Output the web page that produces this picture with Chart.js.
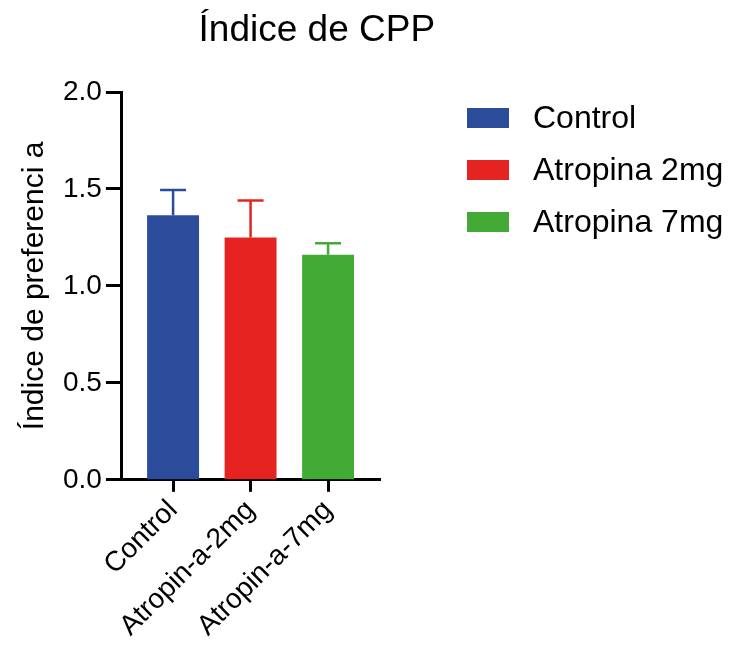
<!DOCTYPE html>
<html>
<head>
<meta charset="utf-8">
<script src="https://cdn.jsdelivr.net/npm/chart.js@4.4.1/dist/chart.umd.min.js"></script>
<style>
  html, body { margin: 0; padding: 0; background: #fff; }
  #wrap { width: 730px; height: 661px; }
</style>
</head>
<body>
<div id="wrap"><canvas id="chart"></canvas></div>
<script>
const chartTitle = 'Índice de CPP'
const yTitle = 'Índice de preferenci a'
const categories = ['Control', 'Atropin-a-2mg', 'Atropin-a-7mg']
const seriesNames = ['Control', 'Atropina 2mg', 'Atropina 7mg']
const means = [1.365, 1.25, 1.16]
const sem = [0.13, 0.19, 0.06]
const colors = ['#2B4C9B', '#E52421', '#43AA35']
const yTicks = [0, 0.5, 1.0, 1.5, 2.0]

const fontFamily = '"Liberation Sans", Arial, Helvetica, sans-serif'

// error bars drawn from the bar scales
const errorBars = {
    id: 'errorBars',
    afterDatasetsDraw(chart) {
        const { ctx } = chart
        const yScale = chart.scales.y
        chart.data.datasets.forEach((ds, i) => {
            const bar = chart.getDatasetMeta(i).data[0]
            if (!bar) return
            const top = yScale.getPixelForValue(means[i] + sem[i])
            ctx.save()
            ctx.strokeStyle = colors[i]
            ctx.lineWidth = 2.5
            ctx.beginPath()
            ctx.moveTo(bar.x, bar.y)
            ctx.lineTo(bar.x, top)
            ctx.moveTo(bar.x - 13, top)
            ctx.lineTo(bar.x + 13, top)
            ctx.stroke()
            ctx.restore()
        })
    },
}

// title sits over the plot + labels block, not the whole canvas
const plotTitle = {
    id: 'plotTitle',
    afterDraw(chart) {
        const { ctx } = chart
        ctx.save()
        ctx.font = `37px ${fontFamily}`
        ctx.fillStyle = '#000'
        ctx.textAlign = 'center'
        ctx.textBaseline = 'alphabetic'
        ctx.fillText(chartTitle, chart.width * 0.434, 41)
        ctx.restore()
    },
}

// legend to the right of the plot (built-in one is capped at half the width)
const sideLegend = {
    id: 'sideLegend',
    afterDraw(chart) {
        const { ctx, chartArea } = chart
        const x0 = chartArea.right + 87
        ctx.save()
        ctx.font = `32px ${fontFamily}`
        ctx.textBaseline = 'middle'
        ctx.textAlign = 'left'
        chart.data.datasets.forEach((ds, i) => {
            const yc = chartArea.top + 26 + i * 52
            ctx.fillStyle = ds.backgroundColor
            ctx.fillRect(x0, yc - 10, 42, 20)
            ctx.fillStyle = '#000'
            ctx.fillText(ds.label, x0 + 66, yc + 1)
        })
        ctx.restore()
    },
}

const datasets = seriesNames.map((name, i) => ({
    label: name,
    data: [{ x: i, y: means[i] }],
    backgroundColor: colors[i],
    borderWidth: 0,
    grouped: false,
    categoryPercentage: 1,
    barPercentage: 0.67,
}))

new Chart(document.getElementById('chart'), {
    type: 'bar',
    data: { datasets },
    plugins: [errorBars, plotTitle, sideLegend],
    options: {
        responsive: true,
        maintainAspectRatio: false,
        animation: false,
        layout: { padding: { top: 92, left: 17, right: 350, bottom: 16 } },
        plugins: {
            tooltip: { enabled: false },
            title: { display: false },
            legend: { display: false },
        },
        scales: {
            x: {
                type: 'linear',
                min: -0.66,
                max: 2.67,
                offset: false,
                afterBuildTicks: (s) => {
                    s.ticks = categories.map((_, i) => ({ value: i }))
                },
                grid: {
                    display: true,
                    offset: false,
                    drawOnChartArea: false,
                    drawTicks: true,
                    tickLength: 12,
                    tickWidth: 3,
                    tickColor: '#000',
                },
                border: { display: true, color: '#000', width: 3 },
                ticks: {
                    color: '#000',
                    font: { family: fontFamily, size: 28 },
                    minRotation: 45,
                    maxRotation: 45,
                    padding: 2,
                    callback: (v) => categories[v] ?? '',
                },
            },
            y: {
                min: 0,
                max: 2,
                afterBuildTicks: (s) => {
                    s.ticks = yTicks.map((v) => ({ value: v }))
                },
                grid: {
                    display: true,
                    drawOnChartArea: false,
                    drawTicks: true,
                    tickLength: 16,
                    tickWidth: 3,
                    tickColor: '#000',
                },
                border: { display: true, color: '#000', width: 3 },
                ticks: {
                    color: '#000',
                    font: { family: fontFamily, size: 28 },
                    padding: 4,
                    callback: (v) => v.toFixed(1),
                },
                title: {
                    display: true,
                    text: yTitle,
                    color: '#000',
                    font: { family: fontFamily, size: 30 },
                    padding: { top: 0, bottom: 6 },
                },
            },
        },
    },
})
</script>
</body>
</html>
